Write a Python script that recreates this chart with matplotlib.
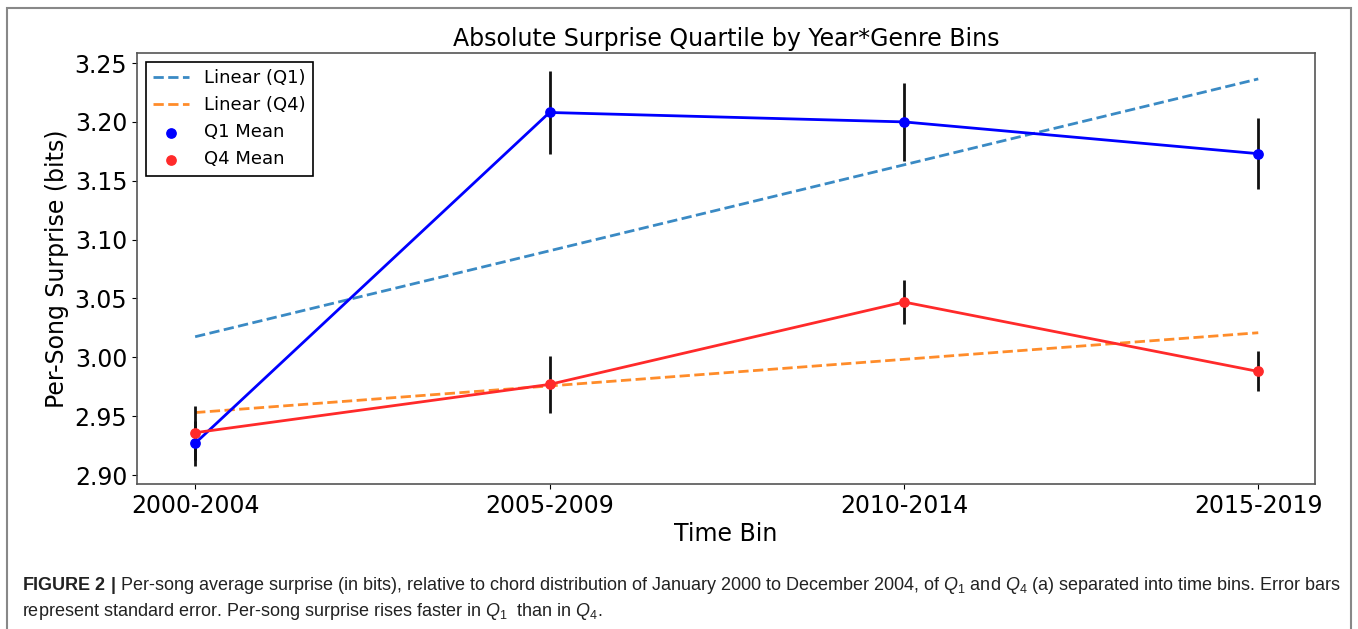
import matplotlib.pyplot as plt
import numpy as np
from matplotlib.patches import Rectangle

plt.rcParams["mathtext.fontset"] = "custom"
plt.rcParams["mathtext.rm"] = "Liberation Sans"
plt.rcParams["mathtext.it"] = "Liberation Sans:italic"
plt.rcParams["mathtext.bf"] = "Liberation Sans:bold"

time_bins = ["2000-2004", "2005-2009", "2010-2014", "2015-2019"]
q1_mean = [2.927, 3.208, 3.200, 3.173]
q1_se = [0.019, 0.035, 0.033, 0.030]
q4_mean = [2.936, 2.977, 3.047, 2.988]
q4_se = [0.023, 0.024, 0.019, 0.017]
y_ticks = [2.90, 2.95, 3.00, 3.05, 3.10, 3.15, 3.20, 3.25]

caption_lines = [
    r"$\mathbf{FIGURE\ 2\ |}$ Per-song average surprise (in bits), relative to chord "
    r"distribution of January 2000 to December 2004, of $Q_1$ and $Q_4$ (a) separated "
    r"into time bins. Error bars",
    r"represent standard error. Per-song surprise rises faster in $Q_1$  than in $Q_4$.",
]

x = np.arange(len(time_bins))
q1_fit = np.polyval(np.polyfit(x, q1_mean, 1), x)
q4_fit = np.polyval(np.polyfit(x, q4_mean, 1), x)

figure = plt.figure(figsize=(13.58, 6.29), dpi=100)
axis = figure.add_axes([0.1009, 0.2305, 0.8674, 0.6852])

fit1, = axis.plot(x, q1_fit, "--", color="#3a8ac4", lw=2, label="Linear (Q1)")
fit4, = axis.plot(x, q4_fit, "--", color="#ff8c2a", lw=2, label="Linear (Q4)")
axis.plot(x, q1_mean, color="blue", lw=2)
axis.plot(x, q4_mean, color="#ff2a2a", lw=2)
axis.errorbar(x, q1_mean, yerr=q1_se, fmt="none", ecolor="#111111", elinewidth=2)
axis.errorbar(x, q4_mean, yerr=q4_se, fmt="none", ecolor="#111111", elinewidth=2)
dots1 = axis.scatter(x, q1_mean, s=45, color="blue", zorder=3, label="Q1 Mean")
dots4 = axis.scatter(x, q4_mean, s=45, color="#ff2a2a", zorder=3, label="Q4 Mean")

axis.set_xlim(-0.164, 3.16)
axis.set_ylim(2.8924, 3.2585)
axis.set_xticks(x, time_bins, fontsize=17)
axis.set_yticks(y_ticks, [f"{v:.2f}" for v in y_ticks], fontsize=17)
axis.set_xlabel("Time Bin", fontsize=17, labelpad=3)
axis.set_ylabel("Per-Song Surprise (bits)", fontsize=17)
axis.set_title("Absolute Surprise Quartile by Year*Genre Bins", fontsize=17, pad=5)
for spine in axis.spines.values():
    spine.set_color("#555555")
    spine.set_linewidth(1.2)

legend = axis.legend(
    handles=[fit1, fit4, dots1, dots4],
    loc="upper left",
    fontsize=13,
    fancybox=False,
    framealpha=1,
    edgecolor="black",
    scatterpoints=1,
    borderaxespad=0.5,
)
legend.get_frame().set_linewidth(1.2)

figure.patches.append(
    Rectangle((7 / 1358, -0.02), 1344 / 1358, 1.02 - 8 / 629,
              transform=figure.transFigure, fill=False,
              edgecolor="#888888", linewidth=1.5)
)

for line, y_pix in zip(caption_lines, [590, 616]):
    figure.text(22 / 1358, 1 - y_pix / 629, line, fontsize=12.97,
                family="Liberation Sans", color="#222222", ha="left", va="baseline")

figure.savefig("out.png", dpi=100)
plt.close(figure)
